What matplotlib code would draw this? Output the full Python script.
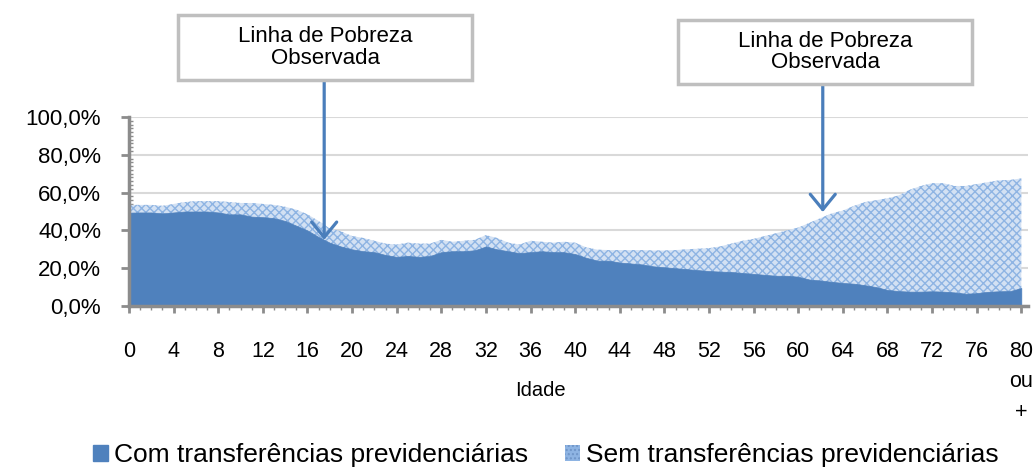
import matplotlib.pyplot as plt
import numpy as np
from matplotlib.patches import Patch, Rectangle

plt.rcParams['font.family'] = ['Liberation Sans', 'DejaVu Sans']
plt.rcParams['hatch.linewidth'] = 1.0

# idade 0 .. 80 (80 = "80 ou +")
idade = np.arange(0, 81)

# taxa de pobreza (%) com transferencias previdenciarias
com_prev = [49.4, 49.5, 49.5, 49.0, 49.5, 50.0, 50.0, 50.0, 49.5, 48.5,
            48.5, 47.3, 47.0, 46.5, 45.0, 42.5, 40.0, 36.5, 33.5, 31.5,
            30.0, 29.0, 28.5, 27.0, 26.0, 26.5, 26.0, 26.5, 28.5, 29.0,
            29.0, 29.5, 31.5, 30.0, 29.0, 28.0, 28.5, 29.0, 28.5, 28.5,
            27.5, 25.5, 24.0, 24.0, 23.0, 22.5, 22.0, 21.0, 20.5, 20.0,
            19.5, 19.0, 18.5, 18.2, 18.0, 17.5, 17.0, 16.5, 16.0, 16.0,
            15.5, 14.0, 13.5, 12.8, 12.2, 11.8, 11.0, 10.0, 8.5, 7.9,
            7.6, 7.6, 7.8, 7.6, 7.2, 6.5, 6.8, 7.5, 7.8, 7.9,
            9.5]

# taxa de pobreza (%) sem transferencias previdenciarias
sem_prev = [53.5, 53.5, 53.5, 53.0, 54.0, 55.0, 55.5, 55.5, 55.5, 55.0,
            54.5, 54.5, 54.0, 53.5, 52.5, 51.0, 48.5, 45.0, 41.0, 39.5,
            37.0, 36.0, 34.5, 33.0, 32.5, 33.5, 33.0, 33.0, 35.0, 34.0,
            34.5, 35.0, 37.5, 36.0, 33.5, 32.5, 34.5, 34.0, 33.5, 34.0,
            33.5, 31.0, 29.8, 29.6, 29.6, 29.6, 29.6, 29.4, 29.4, 29.6,
            30.0, 30.3, 30.6, 31.5, 33.0, 34.5, 35.5, 37.0, 38.5, 40.0,
            41.5, 44.0, 46.5, 49.0, 50.5, 53.0, 55.0, 56.0, 57.0, 58.5,
            61.5, 63.5, 65.0, 65.0, 63.5, 63.5, 64.5, 65.5, 66.5, 66.7,
            67.5]

xticks = list(range(0, 81, 4))
xticklabels = [str(v) for v in xticks[:-1]] + ['80\nou\n+']
yticks = [0, 20, 40, 60, 80, 100]
yticklabels = ['0,0%', '20,0%', '40,0%', '60,0%', '80,0%', '100,0%']

W, H = 1035, 471
fig = plt.figure(figsize=(W / 100, H / 100), dpi=100)
ax = fig.add_axes([129 / W, 1 - 306 / H, 899 / W, 189 / H])

dark = '#4f81bd'
light = '#8eb4e3'
light_bg = '#d3e1f3'
axis_gray = '#8c8c8c'

ax.fill_between(idade, 0, sem_prev, facecolor=light_bg, edgecolor=light,
                hatch='xxxx', lw=0, zorder=2)
ax.fill_between(idade, 0, com_prev, facecolor=dark, edgecolor=dark, lw=0.5, zorder=3)

ax.set_xlim(0, 80.6)
ax.set_ylim(0, 100)
ax.set_yticks(yticks)
ax.set_yticklabels(yticklabels, fontsize=16)
ax.set_yticks(np.arange(0, 101, 2), minor=True)
ax.set_xticks(xticks)
ax.set_xticklabels(xticklabels, fontsize=15.5, linespacing=1.6)
ax.set_xticks(idade, minor=True)

ax.grid(axis='y', color='#d9d9d9', lw=1.5, zorder=0)
ax.set_axisbelow(True)

for s in ['top', 'right']:
    ax.spines[s].set_visible(False)
for s in ['left', 'bottom']:
    ax.spines[s].set_color(axis_gray)
    ax.spines[s].set_linewidth(2.5)
    ax.spines[s].set_zorder(5)

ax.tick_params(axis='y', which='major', length=6, width=2, color=axis_gray, pad=14)
ax.tick_params(axis='y', which='minor', direction='in', length=3, width=1, color=axis_gray)
ax.tick_params(axis='x', which='major', length=5, width=2, color=axis_gray, pad=20)
ax.tick_params(axis='x', which='minor', length=3, width=1, color=axis_gray)

fig.text(540 / W, 1 - 391 / H, 'Idade', ha='center', va='center', fontsize=14.5)

# caixas "Linha de Pobreza Observada" com setas
boxes = [(178, 15, 294, 65, 17.5, 119.6, 35.0),
         (678, 20, 294, 64, 62.2, 117.5, 49.7)]
for bx, by, bw, bh, ax_x, y0, y1 in boxes:
    fig.patches.append(Rectangle((bx / W, 1 - (by + bh) / H), bw / W, bh / H,
                                 transform=fig.transFigure, facecolor='white',
                                 edgecolor='#bfbfbf', lw=2.5))
    fig.text((bx + bw / 2) / W, 1 - (by + bh / 2) / H, 'Linha de Pobreza\nObservada',
             ha='center', va='center', fontsize=16, linespacing=1.0)
    ax.annotate('', xy=(ax_x, y1), xytext=(ax_x, y0), annotation_clip=False,
                arrowprops=dict(arrowstyle='->,head_length=0.55,head_width=0.45',
                                color='#4a7ebb', lw=2.3, shrinkA=0, shrinkB=0,
                                mutation_scale=20), zorder=6)

handles = [Patch(facecolor=dark, edgecolor=dark),
           Patch(facecolor=light, edgecolor='#6f95c8', hatch='....', lw=0)]
labels = ['Com transferências previdenciárias', 'Sem transferências previdenciárias']
fig.legend(handles, labels, loc='center', bbox_to_anchor=(546 / W, 1 - 455 / H),
           ncol=2, frameon=False, fontsize=19, handlelength=0.55, handleheight=0.55,
           handletextpad=0.25, columnspacing=1.4)

fig.savefig('out.png', dpi=100)
